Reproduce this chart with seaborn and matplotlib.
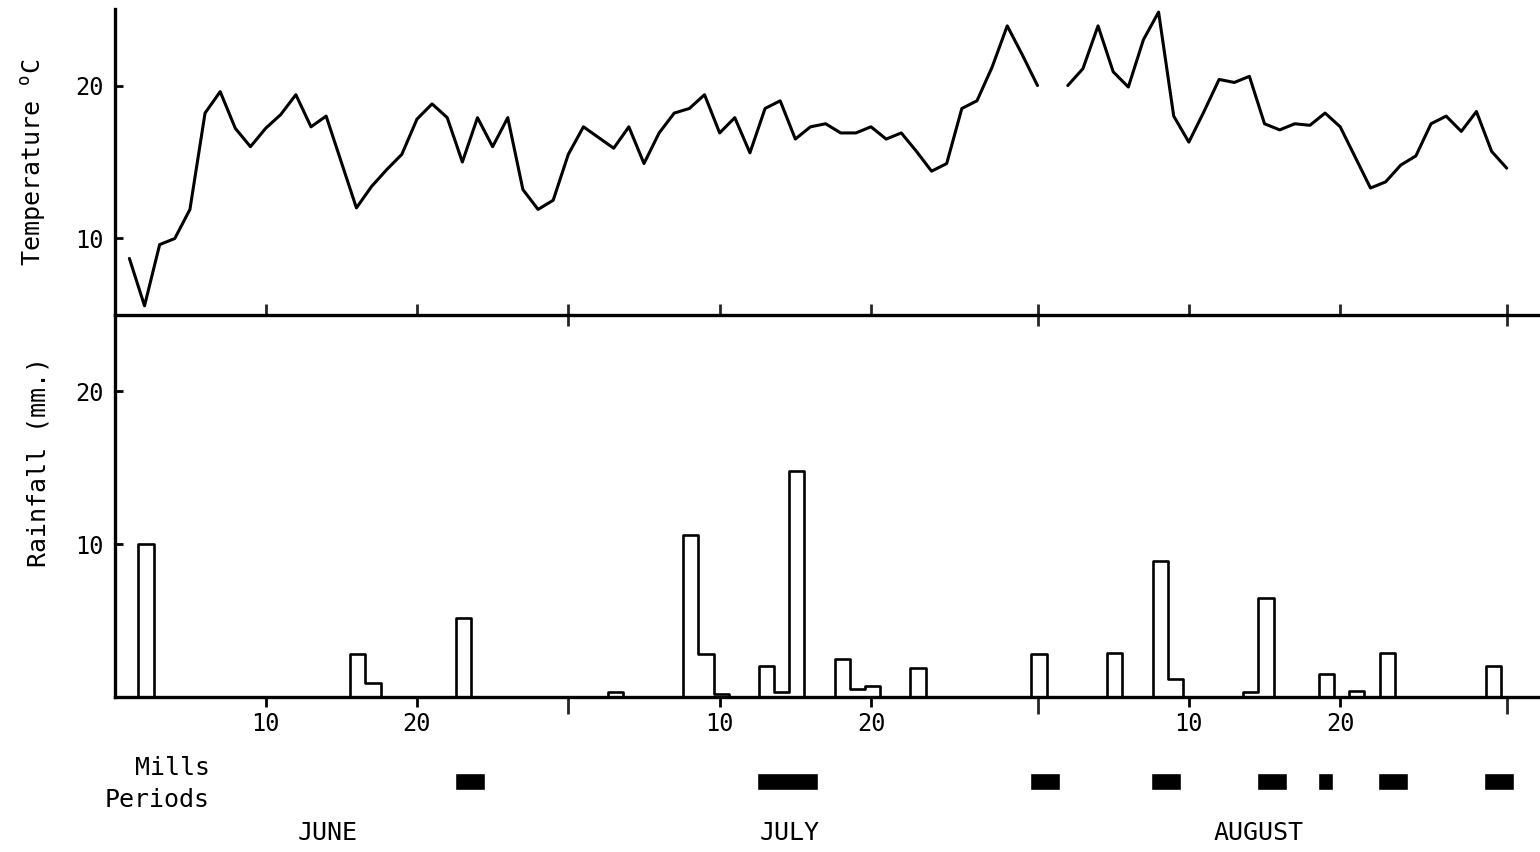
import numpy as np
import pandas as pd
import matplotlib
matplotlib.use("Agg")
import matplotlib.pyplot as plt
import seaborn as sns

# ------------------------------
# Data
# day 1 = 1 June, day 31 = 1 July, day 62 = 1 August
# ------------------------------
days = list(range(1, 93))
temperature = [
    8.7, 5.6, 9.6, 10.0, 11.9, 18.2, 19.6, 17.2, 16.0, 17.2,
    18.1, 19.4, 17.3, 18.0, 15.0, 12.0, 13.4, 14.5, 15.5, 17.8,
    18.8, 17.9, 15.0, 17.9, 16.0, 17.9, 13.2, 11.9, 12.5, 15.5,
    17.3, 16.6, 15.9, 17.3, 14.9, 16.9, 18.2, 18.5, 19.4, 16.9,
    17.9, 15.6, 18.5, 19.0, 16.5, 17.3, 17.5, 16.9, 16.9, 17.3,
    16.5, 16.9, 15.7, 14.4, 14.9, 18.5, 19.0, 21.2, 23.9, 22.0,
    20.0, np.nan, 20.0, 21.1, 23.9, 20.9, 19.9, 23.0, 24.8, 18.0,
    16.3, 18.3, 20.4, 20.2, 20.6, 17.5, 17.1, 17.5, 17.4, 18.2,
    17.3, 15.3, 13.3, 13.7, 14.8, 15.4, 17.5, 18.0, 17.0, 18.3,
    15.7, 14.6,
]

rain_days = [2, 16, 17, 23, 33, 38, 39, 40, 43, 44, 45, 48, 49, 50, 53,
             61, 66, 69, 70, 75, 76, 80, 82, 84, 91]
rain_mm = [10.0, 2.8, 0.9, 5.2, 0.3, 10.6, 2.8, 0.2, 2.0, 0.3, 14.8, 2.5, 0.5, 0.7, 1.9,
           2.8, 2.9, 8.9, 1.2, 0.3, 6.5, 1.5, 0.4, 2.9, 2.0]

mills_start = [23, 43, 61, 69, 76, 80, 84, 91]
mills_end = [24, 46, 62, 70, 77, 80, 85, 92]

month_names = ["JUNE", "JULY", "AUGUST"]
month_ends = [30, 61, 92]
day_ticks = [10, 20, 40, 50, 71, 81]
day_tick_labels = ["10", "20", "10", "20", "10", "20"]
temp_ticks = [10, 20]
rain_ticks = [10, 20]

# ------------------------------
# Tables for seaborn
# ------------------------------
df_temp = pd.DataFrame({"day": days, "temp": temperature})
df_temp["segment"] = (df_temp["temp"].isna().cumsum())
df_temp = df_temp.dropna()

df_rain = pd.DataFrame({"day": rain_days, "mm": rain_mm})

# ------------------------------
# Figure
# ------------------------------
sns.set_theme(style="ticks")
plt.rcParams["font.family"] = ["DejaVu Sans Mono"]
plt.rcParams["mathtext.fontset"] = "custom"
plt.rcParams["mathtext.rm"] = "DejaVu Sans Mono"
plt.rcParams["text.color"] = "black"

fig = plt.figure(figsize=(15.4, 8.52), dpi=100)
left, width = 115 / 1540, 1 - 115 / 1540
ax_r = fig.add_axes([left, 0.1819, width, 0.4484])
ax_t = fig.add_axes([left, 0.6303, width, 0.3591])
ax_m = fig.add_axes([left, 0.0, width, 0.15])

xlim = (0.05, 94.2)
lw = 2.2

# temperature
sns.lineplot(data=df_temp, x="day", y="temp", units="segment", estimator=None,
             color="black", linewidth=lw, ax=ax_t)
ax_t.set_ylim(5, 25)

# rainfall as step outline
sns.histplot(data=df_rain, x="day", weights="mm", binwidth=1, binrange=(0.6, 92.6),
             element="step", fill=False, color="black", linewidth=1.9, ax=ax_r)
ax_r.set_ylim(0, 25)

for ax in (ax_t, ax_r):
    ax.set_xlim(*xlim)
    ax.patch.set_visible(False)
    for s in ("top", "right"):
        ax.spines[s].set_visible(False)
    for s in ("left", "bottom"):
        ax.spines[s].set_linewidth(2.4)
        ax.spines[s].set_color("black")
    ax.set_xlabel("")
    ax.tick_params(axis="y", direction="in", length=6, width=2, pad=8,
                   labelsize=17, colors="black")

ax_t.set_yticks(temp_ticks, [str(t) for t in temp_ticks])
ax_r.set_yticks(rain_ticks, [str(t) for t in rain_ticks])

# x ticks: top panel points up, bottom panel points down
ax_t.set_xticks(month_ends, [""] * len(month_ends))
ax_t.set_xticks(day_ticks, [""] * len(day_ticks), minor=True)
ax_t.tick_params(axis="x", which="major", direction="inout", length=16, width=2)
ax_t.tick_params(axis="x", which="minor", direction="in", length=8, width=2)

ax_r.set_xticks(month_ends, [""] * len(month_ends))
ax_r.set_xticks(day_ticks, day_tick_labels, minor=True)
ax_r.tick_params(axis="x", which="major", direction="out", length=12, width=2)
ax_r.tick_params(axis="x", which="minor", direction="out", length=7, width=2,
                 labelsize=17, pad=4, colors="black")

ax_t.set_ylabel("Temperature $^{\\rm o}$C", fontsize=18, color="black")
ax_t.yaxis.set_label_coords(-0.047, 0.5)
ax_r.set_ylabel("Rainfall (mm.)", fontsize=18, color="black")
ax_r.yaxis.set_label_coords(-0.045, 0.615)

# mills periods row
ax_m.set_xlim(*xlim)
ax_m.set_ylim(0, 1)
ax_m.axis("off")
starts = np.array(mills_start) - 0.5
lengths = np.array(mills_end) - np.array(mills_start) + 1
ax_m.barh(y=0.55, width=lengths, left=starts, height=0.135, color="black")

fig.text(210 / 1540, 1 - 768 / 852, "Mills", ha="right", va="center",
         fontsize=18, color="black")
fig.text(210 / 1540, 1 - 800 / 852, "Periods", ha="right", va="center",
         fontsize=18, color="black")

month_starts = [0] + month_ends[:-1]
for name, a, b in zip(month_names, month_starts, month_ends):
    ax_m.text((a + b) / 2 - 0.9, 0.15, name, ha="center", va="center",
              fontsize=18, color="black")

fig.savefig("out.png", dpi=100, facecolor="white")
